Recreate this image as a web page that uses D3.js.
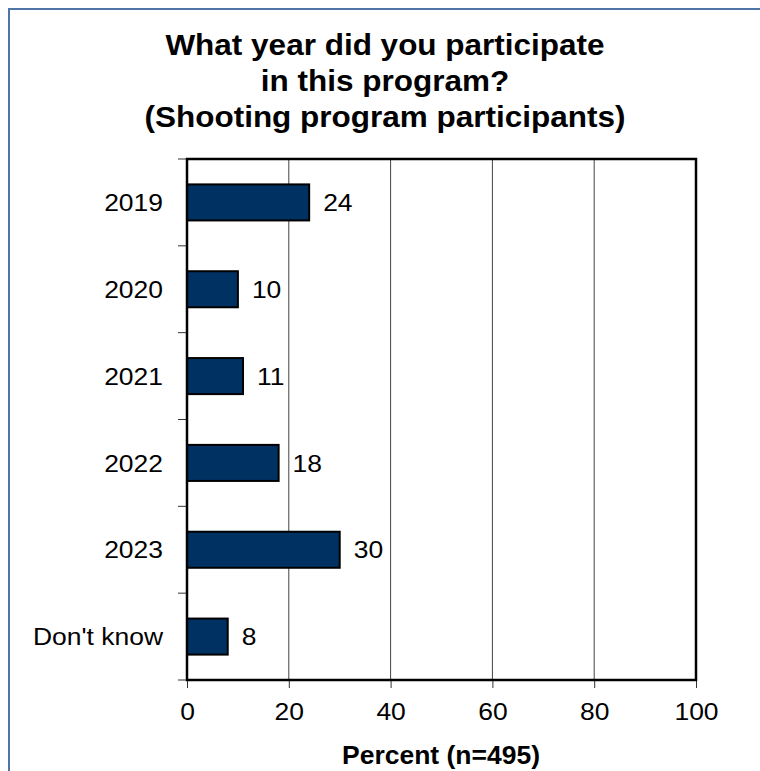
<!DOCTYPE html>
<html>
<head>
<meta charset="utf-8">
<script src="https://cdn.jsdelivr.net/npm/d3@7/dist/d3.min.js"></script>
<style>
  html, body { margin: 0; padding: 0; background: #fff; }
  svg { display: block; font-family: "Liberation Sans", Arial, sans-serif; }
</style>
</head>
<body>
<svg id="chart" width="760" height="771"></svg>
<script>
// Survey responses: year of participation
const categories = ["2019", "2020", "2021", "2022", "2023", "Don't know"];
const percents = [24, 10, 11, 18, 30, 8];
const xTicks = [0, 20, 40, 60, 80, 100];
const titleLines = ["What year did you participate", "in this program?", "(Shooting program participants)"];
const xTitle = "Percent (n=495)";

const svg = d3.select("#chart");
const W = 760, H = 771;
const plot = { left: 187, top: 159, right: 696, bottom: 680 };
const stretch = 1.08; // slightly wide lettering

// Outer frame of the figure
svg.append("rect")
  .attr("x", 9).attr("y", 9)
  .attr("width", W + 20).attr("height", H + 20)
  .attr("fill", "#fff")
  .attr("stroke", "#4f74a8").attr("stroke-width", 2);

// Title
svg.append("g").selectAll("text")
  .data(titleLines)
  .join("text")
  .attr("transform", (d, i) => `translate(385,${55 + i * 36}) scale(1.05,1)`)
  .attr("text-anchor", "middle")
  .attr("font-size", 30)
  .attr("font-weight", "bold")
  .attr("fill", "#000")
  .text(d => d);

const x = d3.scaleLinear().domain([0, 100]).range([plot.left, plot.right]);
const y = d3.scaleBand().domain(categories).range([plot.top, plot.bottom])
  .paddingInner(0.585).paddingOuter(0.2925);

// Vertical gridlines
svg.append("g").selectAll("line")
  .data(xTicks.filter(t => t > 0 && t < 100))
  .join("line")
  .attr("x1", d => x(d)).attr("x2", d => x(d))
  .attr("y1", plot.top).attr("y2", plot.bottom)
  .attr("stroke", "#444").attr("stroke-width", 1);

// Category boundary ticks on the left
const step = (plot.bottom - plot.top) / categories.length;
svg.append("g").selectAll("line")
  .data(d3.range(categories.length + 1))
  .join("line")
  .attr("x1", plot.left - 9).attr("x2", plot.left)
  .attr("y1", d => plot.top + d * step).attr("y2", d => plot.top + d * step)
  .attr("stroke", "#333").attr("stroke-width", 1);

// Bottom axis
const xAxis = svg.append("g")
  .attr("transform", `translate(0,${plot.bottom})`)
  .call(d3.axisBottom(x).tickValues(xTicks).tickSize(8).tickPadding(15));
xAxis.select(".domain").remove();
xAxis.selectAll(".tick line").attr("stroke", "#333").attr("stroke-width", 1);
xAxis.selectAll(".tick text")
  .attr("font-size", 24.5)
  .attr("font-family", "'Liberation Sans', Arial, sans-serif")
  .attr("fill", "#000")
  .attr("transform", `scale(${stretch},1)`)
  .attr("x", 0);

// Category labels
svg.append("g").selectAll("text")
  .data(categories)
  .join("text")
  .attr("transform", d => `translate(${plot.left - 24},${y(d) + y.bandwidth() / 2}) scale(${stretch},1)`)
  .attr("dy", "0.35em")
  .attr("text-anchor", "end")
  .attr("font-size", 24.5)
  .attr("fill", "#000")
  .text(d => d);

// Bars
svg.append("g").selectAll("rect")
  .data(categories)
  .join("rect")
  .attr("x", x(0))
  .attr("y", d => y(d))
  .attr("width", (d, i) => x(percents[i]) - x(0))
  .attr("height", y.bandwidth())
  .attr("fill", "#003163")
  .attr("stroke", "#000").attr("stroke-width", 2);

// Value labels
svg.append("g").selectAll("text")
  .data(categories)
  .join("text")
  .attr("transform", (d, i) => `translate(${x(percents[i]) + 14},${y(d) + y.bandwidth() / 2}) scale(${stretch},1)`)
  .attr("dy", "0.35em")
  .attr("font-size", 24.5)
  .attr("fill", "#000")
  .text((d, i) => percents[i]);

// Plot frame
svg.append("rect")
  .attr("x", plot.left).attr("y", plot.top)
  .attr("width", plot.right - plot.left).attr("height", plot.bottom - plot.top)
  .attr("fill", "none")
  .attr("stroke", "#000").attr("stroke-width", 2.5);

// Axis title
svg.append("text")
  .attr("transform", `translate(441,764) scale(1.06,1)`)
  .attr("text-anchor", "middle")
  .attr("font-size", 25)
  .attr("font-weight", "bold")
  .attr("fill", "#000")
  .text(xTitle);
</script>
</body>
</html>
